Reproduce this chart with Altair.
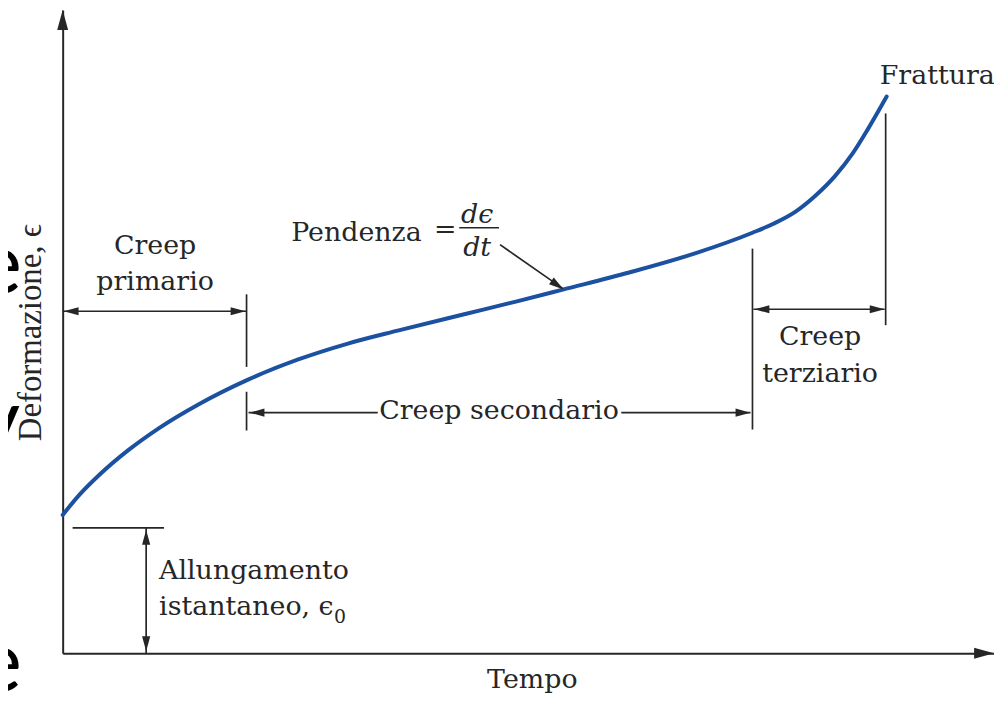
import altair as alt
import pandas as pd

# ---- creep curve (Tempo, Deformazione) in arbitrary units ----
tempo = [0, 17, 37, 67, 97, 137, 186, 237, 287, 337, 404, 457, 504, 570, 637, 694, 715, 737, 757, 777, 795, 810, 829]
deformazione = [139, 159.5, 179.5, 205, 226.5, 250.5, 275, 295.5, 311.5, 324.5, 341, 354, 366, 383, 402.5, 423, 432, 444, 460, 480, 503, 527, 560]

# ---- annotation segments (t, e, t2, e2) ----
seg_t = [10, 84, 0, 185, 185, 187, 562, 694, 828, 695, 440, 399]
seg_e = [126, 126, 344, 361, 263, 242, 242, 407, 543, 346, 411, 428]
seg_t2 = [102, 84, 185, 185, 185, 317, 692, 694, 828, 827, 503, 439]
seg_e2 = [126, 0, 344, 288, 224, 242, 242, 225, 330, 346, 367, 428]

# ---- arrow heads (tip position, direction in degrees clockwise from up) ----
head_t = [84, 84, 1, 184, 188, 692, 696, 827, 504]
head_e = [124, 2, 344, 344, 242, 242, 346, 346, 366]
head_ang = [0, 180, 270, 90, 270, 90, 270, 90, 125]
axis_head_t = [0, 937]
axis_head_e = [647, 0]
axis_head_ang = [0, 90]

# ---- labels ----
center_labels = ["Creep", "primario", "Creep secondario", "Creep", "terziario", "="]
center_t = [93, 93, 439, 762, 762, 385]
center_e = [402, 365, 236, 310, 273, 418]
left_labels = ["Pendenza", "Frattura", "Allungamento", "istantaneo, ϵ"]
left_t = [230, 822, 97, 97]
left_e = [415, 573, 75, 38]
sub_labels = ["0"]
sub_t = [273]
sub_e = [30]
frac_labels = ["dϵ", "dt"]
frac_t = [417, 417]
frac_e = [433, 400]
slide_labels = ["e", "y", "e"]
slide_t = [-41, -43, -41]
slide_e = [362, 205, -38]

W, H = 937, 647
INK = "#262626"
BLUE = "#1b51a0"
FONT = "DejaVu Serif"
FS = 27

xs = alt.Scale(domain=[0, W], nice=False, zero=False)
ys = alt.Scale(domain=[0, H], nice=False, zero=False)

XAXIS = alt.Axis(
    title="Tempo", domain=True, domainColor=INK, domainWidth=2,
    ticks=False, labels=False, grid=False,
    titleFont=FONT, titleFontSize=FS, titleFontWeight="normal", titleColor=INK,
    titleX=472, titleY=35, titleAlign="center", titleBaseline="alphabetic")
YAXIS = alt.Axis(
    title="Deformazione, ϵ", domain=True, domainColor=INK, domainWidth=2,
    ticks=False, labels=False, grid=False,
    titleFont="Liberation Serif", titleFontSize=33, titleFontWeight="normal",
    titleColor=INK, titleAngle=270, titleX=-22, titleY=324,
    titleAlign="center", titleBaseline="alphabetic")


def X(field="t"):
    return alt.X(f"{field}:Q", scale=xs, axis=XAXIS)


def Y(field="e"):
    return alt.Y(f"{field}:Q", scale=ys, axis=YAXIS)


curve_df = pd.DataFrame({"t": tempo, "e": deformazione})
seg_df = pd.DataFrame({"t": seg_t, "e": seg_e, "t2": seg_t2, "e2": seg_e2})
head_df = pd.DataFrame({"t": head_t, "e": head_e, "ang": head_ang})
axhead_df = pd.DataFrame({"t": axis_head_t, "e": axis_head_e, "ang": axis_head_ang})

HEAD = "M0,0L-0.55,2L0.55,2Z"

curve = alt.Chart(curve_df).mark_line(
    color=BLUE, strokeWidth=4, interpolate="monotone", strokeCap="round"
).encode(x=X(), y=Y())

segs = alt.Chart(seg_df).mark_rule(color=INK, strokeWidth=1.7).encode(
    x=X(), x2="t2:Q", y=Y(), y2="e2:Q",
)

heads = alt.Chart(head_df).mark_point(
    shape=HEAD, filled=True, opacity=1, color=INK, size=225, strokeWidth=0
).encode(x=X(), y=Y(), angle=alt.Angle("ang:Q", scale=None))

axheads = alt.Chart(axhead_df).mark_point(
    shape=HEAD, filled=True, opacity=1, color=INK, size=400, strokeWidth=0
).encode(x=X(), y=Y(), angle=alt.Angle("ang:Q", scale=None))


def text_layer(labels, ts, es, align, font=FONT, size=FS, style="normal", color=INK):
    df = pd.DataFrame({"label": labels, "t": ts, "e": es})
    return alt.Chart(df).mark_text(
        align=align, baseline="alphabetic", font=font, fontSize=size,
        fontStyle=style, color=color
    ).encode(x=X(), y=Y(), text="label:N")


txt_center = text_layer(center_labels, center_t, center_e, "center")
txt_left = text_layer(left_labels, left_t, left_e, "left")
txt_sub = text_layer(sub_labels, sub_t, sub_e, "left", size=19)
txt_frac = text_layer(frac_labels, frac_t, frac_e, "center", style="italic")
txt_slide = text_layer(slide_labels, slide_t, slide_e, "right",
                       font="Lato", size=85, color="#000000")

chart = alt.layer(
    segs, curve, heads, axheads, txt_center, txt_left, txt_sub, txt_frac, txt_slide
).properties(
    width=W, height=H,
    autosize="none",
    padding={"left": 55, "top": 0, "right": 0, "bottom": 42},
    background="white",
).configure_view(stroke=None)

chart.save("out.html", embed_options={"renderer": "svg", "actions": False})
